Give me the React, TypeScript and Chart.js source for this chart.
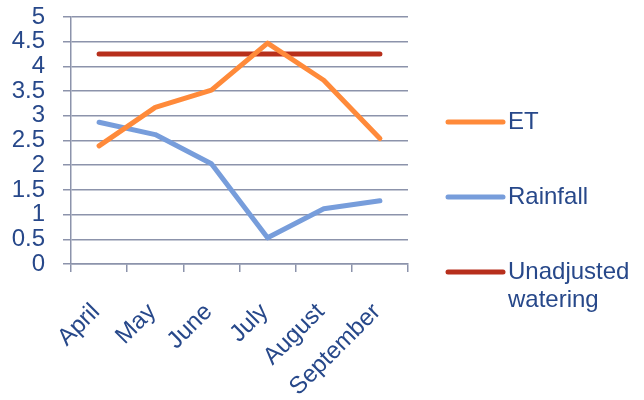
import React, { useEffect, useRef } from "react";
import { Chart, registerables } from "chart.js";

Chart.register(...registerables);

const months = ["April", "May", "June", "July", "August", "September"];
const etValues = [2.39, 3.17, 3.52, 4.47, 3.72, 2.54];
const rainfallValues = [2.87, 2.62, 2.03, 0.53, 1.12, 1.28];
const unadjustedValues = [4.25, 4.25, 4.25, 4.25, 4.25, 4.25];
const seriesNames = [["ET"], ["Rainfall"], ["Unadjusted", "watering"]];

const TEXT = "#27488a";
const GRID = "#8c93ab";
const FONT = "'Liberation Sans', Arial, sans-serif";

const legendPlugin = {
  id: "sideLegend",
  afterDraw(chart: any) {
    const ctx = chart.ctx;
    const area = chart.chartArea;
    const x0 = area.right + 40;
    const lineLen = 55;
    const startY = 122;
    const gap = 75;
    ctx.save();
    chart.data.datasets.forEach((ds: any, i: number) => {
      const y = startY + i * gap;
      ctx.strokeStyle = ds.borderColor;
      ctx.lineWidth = 5;
      ctx.lineCap = "round";
      ctx.beginPath();
      ctx.moveTo(x0, y);
      ctx.lineTo(x0 + lineLen, y);
      ctx.stroke();
      ctx.fillStyle = TEXT;
      ctx.font = `24px ${FONT}`;
      ctx.textBaseline = "middle";
      ctx.textAlign = "left";
      const lines: string[] = seriesNames[i];
      lines.forEach((t, j) => {
        ctx.fillText(t, x0 + lineLen + 5, y + j * 28);
      });
    });
    ctx.restore();
  },
};

export default function App() {
  const ref = useRef<HTMLCanvasElement>(null);
  useEffect(() => {
    document.body.style.margin = "0";
    const chart = new Chart(ref.current!, {
      type: "line",
      data: {
        labels: months,
        datasets: [
          { label: seriesNames[0].join(" "), data: etValues, borderColor: "#ff8a3a", backgroundColor: "#ff8a3a" },
          { label: seriesNames[1].join(" "), data: rainfallValues, borderColor: "#779ddb", backgroundColor: "#779ddb" },
          { label: seriesNames[2].join(" "), data: unadjustedValues, borderColor: "#b72f1c", backgroundColor: "#b72f1c" },
        ].map((d) => ({
          ...d,
          borderWidth: 5,
          pointRadius: 0,
          pointHoverRadius: 0,
          tension: 0,
          borderCapStyle: "round" as const,
          borderJoinStyle: "round" as const,
        })),
      },
      options: {
        responsive: false,
        animation: false,
        devicePixelRatio: 1,
        layout: { padding: { top: 17, right: 236, left: 0, bottom: 0 } },
        plugins: { legend: { display: false }, tooltip: { enabled: false } },
        scales: {
          x: {
            offset: true,
            grid: { offset: true, drawOnChartArea: false, drawTicks: true, tickLength: 8, color: GRID, lineWidth: 1.5 },
            border: { color: GRID, width: 1.5 },
            ticks: {
              color: TEXT,
              font: { family: FONT, size: 24 },
              minRotation: 45,
              maxRotation: 45,
              padding: 26,
              labelOffset: -3,
              autoSkip: false,
            },
            afterFit(scale: any) {
              scale.height = 136;
              scale.paddingTop = 0;
            },
          },
          y: {
            min: 0,
            max: 5,
            ticks: {
              stepSize: 0.5,
              autoSkip: false,
              color: TEXT,
              font: { family: FONT, size: 24 },
              padding: 18,
              callback: (v: any) => String(Number(v)),
            },
            grid: { color: GRID, lineWidth: 1.5, tickLength: 8 },
            border: { color: GRID, width: 1.5 },
            afterFit(scale: any) {
              scale.width = 71;
              scale.paddingTop = 0;
              scale.paddingBottom = 0;
            },
          },
        },
      },
      plugins: [legendPlugin],
    });
    return () => chart.destroy();
  }, []);
  return (
    <div style={{ width: 644, height: 400 }}>
      <canvas ref={ref} width={644} height={400} />
    </div>
  );
}
